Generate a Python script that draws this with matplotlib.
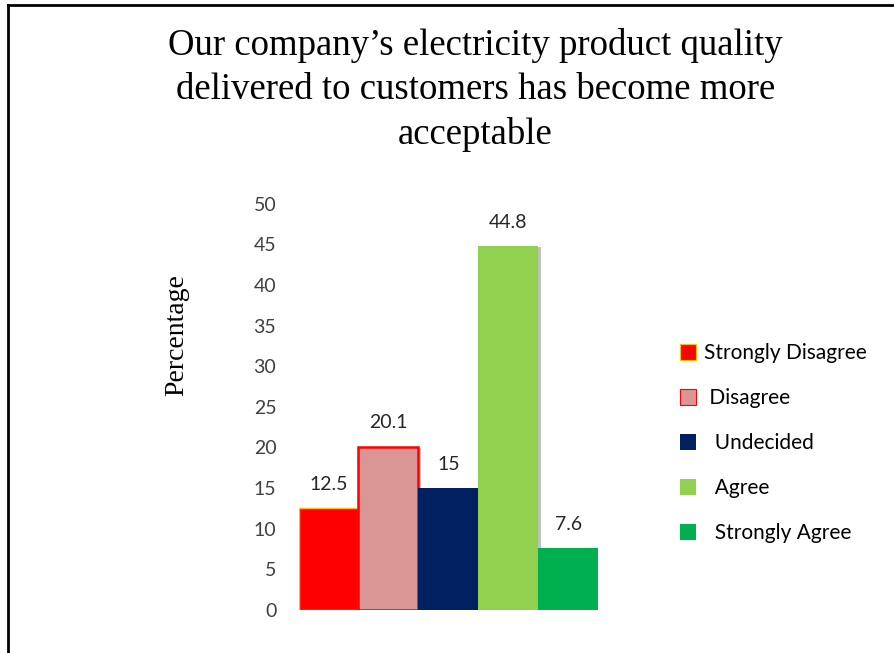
import matplotlib.pyplot as plt
from matplotlib.patches import Patch
from matplotlib.lines import Line2D
import matplotlib.patheffects as pe

categories = ["Strongly Disagree", "Disagree", "Undecided", "Agree", "Strongly Agree"]
legend_labels = ["Strongly Disagree", " Disagree", "  Undecided", "  Agree", "  Strongly Agree"]
values = [12.5, 20.1, 15, 44.8, 7.6]
value_labels = ["12.5", "20.1", "15", "44.8", "7.6"]
colors = ["#FF0000", "#D99694", "#002060", "#92D050", "#00B050"]
edges = ["#FFC000", "#FF0000", "#002060", "#92D050", "#00B050"]
edge_widths = [1.0, 1.8, 0, 0, 0]

fig = plt.figure(figsize=(8.94, 6.53), dpi=100)
ax = fig.add_axes([0.334, 0.066, 0.335, 0.622])

x = list(range(len(values)))
bars = ax.bar(x, values, width=1.0, color=colors, edgecolor=edges, linewidth=edge_widths)
for b in bars:
    b.set_path_effects([pe.SimplePatchShadow(offset=(2, -1), alpha=0.3), pe.Normal()])

for xi, v, lab in zip(x, values, value_labels):
    ax.annotate(lab, (xi, v), xytext=(0, 11), textcoords="offset points",
                ha="center", va="bottom", fontsize=14, color="#262626", family="Lato")

ax.set_xlim(-0.5, 4.5)
ax.set_ylim(0, 50)
ax.set_yticks(range(0, 51, 5))
ax.set_xticks([])
ax.tick_params(axis="y", length=0, pad=16, labelsize=14, labelcolor="#404040")
for t in ax.get_yticklabels():
    t.set_family("Lato")
for s in ax.spines.values():
    s.set_visible(False)

ax.set_ylabel("Percentage", family="Liberation Serif", fontsize=20)
ax.yaxis.set_label_coords(-0.365, 0.677)

fig.text(0.532, 0.862, "Our company’s electricity product quality\ndelivered to customers has become more\nacceptable",
         ha="center", va="center", family="Liberation Serif", fontsize=26.5, linespacing=1.36)

handles = [Patch(facecolor=c, edgecolor=e, linewidth=(0.8 if w else 0))
           for c, e, w in zip(colors, edges, edge_widths)]
fig.legend(handles, legend_labels, loc="upper left", bbox_to_anchor=(0.74, 0.503),
           frameon=False, handlelength=0.75, handleheight=0.75,
           handletextpad=0.4, labelspacing=1.2, prop={"family": "Lato", "size": 15})

# frame lines of the screenshot
fig.add_artist(Line2D([0.009, 0.009], [0, 0.993], color="black", lw=2, transform=fig.transFigure))
fig.add_artist(Line2D([0.009, 1.0], [0.993, 0.993], color="black", lw=2, transform=fig.transFigure))

fig.savefig("out.png", dpi=100)
